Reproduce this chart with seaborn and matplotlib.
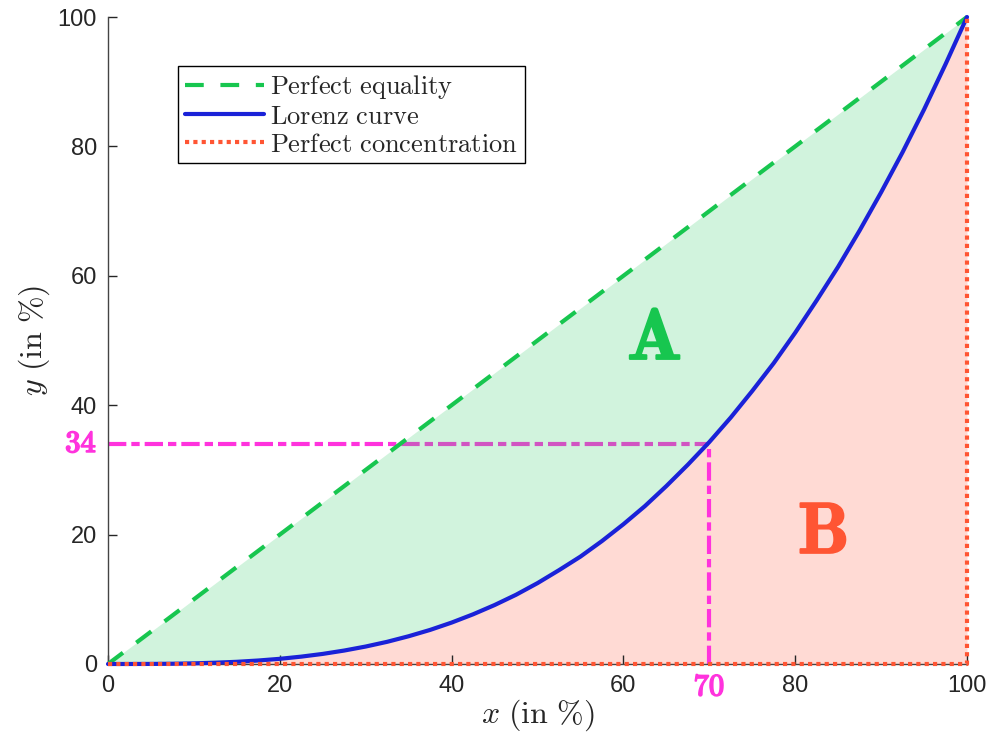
import matplotlib
matplotlib.use("Agg")
import matplotlib.pyplot as plt
import matplotlib.transforms as mtransforms
import matplotlib.patheffects as pe
import seaborn as sns
import pandas as pd

# data (percent)
x_pct = [0, 2.5, 5, 7.5, 10, 12.5, 15, 17.5, 20, 22.5, 25, 27.5, 30, 32.5, 35, 37.5,
         40, 42.5, 45, 47.5, 50, 52.5, 55, 57.5, 60, 62.5, 65, 67.5, 70, 72.5,
         75, 77.5, 80, 82.5, 85, 87.5, 90, 92.5, 95, 97.5, 100]
lorenz = [0, 0.002, 0.013, 0.04, 0.1, 0.2, 0.34, 0.54, 0.8, 1.14, 1.56, 2.08, 2.7,
          3.43, 4.29, 5.27, 6.4, 7.68, 9.11, 10.7, 12.5, 14.5, 16.6, 19.0, 21.6,
          24.4, 27.5, 30.8, 34.3, 38.1, 42.2, 46.5, 51.2, 56.2, 61.4, 67.0, 72.9,
          79.1, 85.7, 92.7, 100]
equality = list(x_pct)
conc_x = [0, 100, 100]
conc_y = [0, 0, 100]
mark_x = 70
mark_y = 34

green = "#17c64f"
blue = "#1a22d8"
red = "#ff5533"
magenta = "#ff33dd"

df = pd.DataFrame({"x": x_pct, "lorenz": lorenz, "equality": equality})
df_conc = pd.DataFrame({"x": conc_x, "y": conc_y})

sns.set_style("ticks")
plt.rcParams["mathtext.fontset"] = "cm"
plt.rcParams["font.family"] = ["Liberation Sans", "DejaVu Sans"]

fig = plt.figure(figsize=(9.96, 7.44), dpi=100)
ax = fig.add_axes([108 / 996, 1 - 664 / 744, (967 - 108) / 996, (664 - 17) / 744])

# helper lines for the marked point
dashdot = (0, (4.4, 1.2, 2.0, 1.2))
ax.plot([0, mark_x], [mark_y, mark_y], color=magenta, lw=3, ls=dashdot, zorder=1)
ax.plot([mark_x, mark_x], [0, mark_y], color=magenta, lw=3, ls=dashdot, zorder=1)

# areas
ax.fill_between(df["x"], df["lorenz"], 0, color="#ffdad4", lw=0, zorder=0)
ax.fill_between(df["x"], df["equality"], df["lorenz"], color="#2ecc66", alpha=0.22, lw=0, zorder=2)

sns.lineplot(data=df, x="x", y="equality", color=green, lw=3, ax=ax, clip_on=False,
             linestyle=(0, (4.5, 4)), label=r"$\mathrm{Perfect\ equality}$", zorder=3)
sns.lineplot(data=df, x="x", y="lorenz", color=blue, lw=3, ax=ax, clip_on=False,
             label=r"$\mathrm{Lorenz\ curve}$", zorder=4)
sns.lineplot(data=df_conc, x="x", y="y", color=red, lw=3, ax=ax, sort=False, estimator=None,
             clip_on=False, linestyle=(0, (1, 1)), label=r"$\mathrm{Perfect\ concentration}$",
             zorder=5)

ax.text(63.6, 50, r"$\mathbf{A}$", color=green, fontsize=52, ha="center", va="center",
        path_effects=[pe.withStroke(linewidth=1.5, foreground=green)])
ax.text(83.2, 20, r"$\mathbf{B}$", color=red, fontsize=52, ha="center", va="center",
        path_effects=[pe.withStroke(linewidth=1.5, foreground=red)])

# value labels on the axes
bold_m = [pe.withStroke(linewidth=1.2, foreground=magenta)]
ytr = mtransforms.blended_transform_factory(ax.transAxes, ax.transData)
ax.text(-0.013, mark_y, r"$\mathbf{34}$", color=magenta, fontsize=22,
        ha="right", va="center", transform=ytr, path_effects=bold_m)
xtr = mtransforms.blended_transform_factory(ax.transData, ax.transAxes)
ax.text(mark_x, -0.036, r"$\mathbf{70}$", color=magenta, fontsize=22,
        ha="center", va="center", transform=xtr, path_effects=bold_m)

ax.set_xlim(0, 100)
ax.set_ylim(0, 100)
ax.set_xticks([0, 20, 40, 60, 80, 100])
ax.set_yticks([0, 20, 40, 60, 80, 100])
ax.tick_params(direction="in", length=6.5, width=1, labelsize=17, colors="#262626", pad=8)
for s in ["left", "bottom"]:
    ax.spines[s].set_color("#444444")
    ax.spines[s].set_linewidth(1)
sns.despine(ax=ax)

ax.set_xlabel(r"$x\ \mathrm{(in\ \%)}$", fontsize=23, labelpad=0)
ax.set_ylabel(r"$y\ \mathrm{(in\ \%)}$", fontsize=23, labelpad=4)

leg = ax.legend(loc="upper left", bbox_to_anchor=(0.0815, 0.924), fontsize=19,
                handlelength=3.0, fancybox=False, framealpha=1, edgecolor="black",
                borderpad=0.25, labelspacing=0.15, handletextpad=0.25, borderaxespad=0)
leg.get_frame().set_linewidth(1)

fig.savefig("out.png", dpi=100)
